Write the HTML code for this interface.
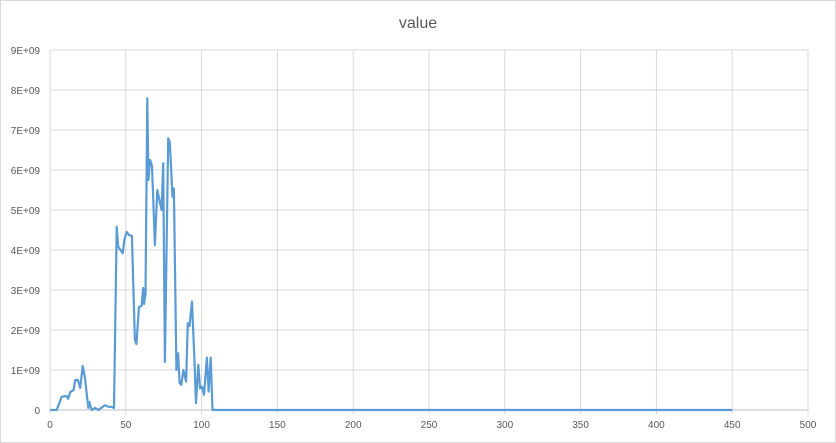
<!DOCTYPE html>
<html><head><meta charset="utf-8"><style>
body{margin:0;background:#fff;}
svg{display:block;font-family:"Liberation Sans",sans-serif;}
</style></head><body>
<svg id="chart" width="836" height="443">
<rect x="0.5" y="0.5" width="835" height="442" fill="#fff" stroke="#d9d9d9"/>
<text x="418" y="28" text-anchor="middle" font-size="16" fill="#595959">value</text>
<g id="grid"></g><g id="axes"></g><g id="series"></g>
</svg>
<script>
const xTicks=[0,50,100,150,200,250,300,350,400,450,500];
const yTicks=[0,1,2,3,4,5,6,7,8,9];
const yTickLabels=["0","1E+09","2E+09","3E+09","4E+09","5E+09","6E+09","7E+09","8E+09","9E+09"];
const xVals=[0,4.4,7.7,11,12,13.4,15.6,16.6,18.4,19.9,21.6,23.1,24.7,25.3,26,27.5,29.7,32,34,36.3,38.5,40.7,42.2,44,45,48,49,50.5,52,54,56,57,58.7,60.4,61.5,62,63,64.2,64.9,66,67.3,69.2,70.8,73.6,74.7,75.8,78,79,80.8,81.7,83.4,84.5,85.5,86.6,88,89.8,90.9,92,93.7,95.2,96.3,97.8,99,100.3,101.6,103.5,104.6,106,107.2,150,200,300,400,450];
const yVals=[0,0,0.33,0.35,0.28,0.45,0.5,0.75,0.75,0.55,1.1,0.8,0.25,0.05,0.2,0,0.05,0,0.06,0.12,0.08,0.08,0.05,4.58,4.08,3.92,4.25,4.45,4.38,4.35,1.75,1.65,2.58,2.6,3.05,2.65,2.9,7.79,5.75,6.25,6.1,4.12,5.5,5.0,6.17,1.2,6.79,6.7,5.33,5.54,1.0,1.42,0.67,0.63,1.0,0.71,2.17,2.1,2.71,1.33,0.17,1.13,0.54,0.58,0.38,1.31,0.46,1.31,0,0,0,0,0,0];
const L=50,R=808,T=50,B=410;
const sx=v=>L+(v-0)/(500-0)*(R-L);
const sy=v=>B-(v/9)*(B-T);
const NS="http://www.w3.org/2000/svg";
const grid=document.getElementById('grid'),axes=document.getElementById('axes'),series=document.getElementById('series');
yTicks.forEach((t,i)=>{
 const l=document.createElementNS(NS,'line');
 l.setAttribute('x1',L);l.setAttribute('x2',R);l.setAttribute('y1',sy(t));l.setAttribute('y2',sy(t));
 l.setAttribute('stroke',i===0?'#bfbfbf':'#d9d9d9');
 
 
 grid.appendChild(l);
 const tx=document.createElementNS(NS,'text');
 tx.setAttribute('x',40);tx.setAttribute('y',sy(t)+4);tx.setAttribute('text-anchor','end');
 tx.setAttribute('font-size','10');tx.setAttribute('fill','#595959');tx.textContent=yTickLabels[i];
 
 
 axes.appendChild(tx);
});
xTicks.forEach(t=>{
 const l=document.createElementNS(NS,'line');
 l.setAttribute('x1',sx(t));l.setAttribute('x2',sx(t));l.setAttribute('y1',T);l.setAttribute('y2',B+4);
 l.setAttribute('stroke','#d9d9d9');
 
 
 grid.appendChild(l);
 const tx=document.createElementNS(NS,'text');
 tx.setAttribute('x',sx(t));tx.setAttribute('y',428);tx.setAttribute('text-anchor','middle');
 tx.setAttribute('font-size','10');tx.setAttribute('fill','#595959');tx.textContent=t;
 
 
 axes.appendChild(tx);
});
const p=document.createElementNS(NS,'polyline');
p.setAttribute('points',xVals.map((x,i)=>sx(x).toFixed(1)+','+sy(yVals[i]).toFixed(1)).join(' '));
p.setAttribute('fill','none');p.setAttribute('stroke','#5b9bd5');p.setAttribute('stroke-width','2.2');p.setAttribute('stroke-linejoin','round');


series.appendChild(p);
</script>
</body></html>
